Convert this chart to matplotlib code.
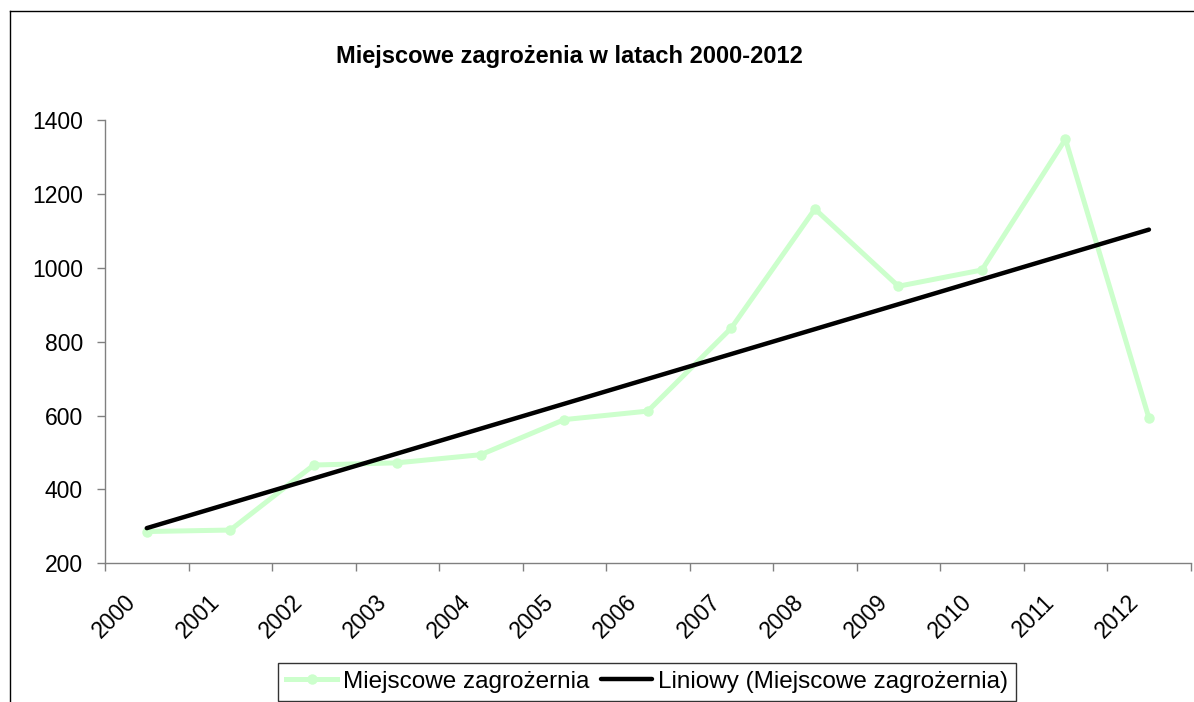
import numpy as np
import matplotlib
matplotlib.use("Agg")
import matplotlib.pyplot as plt
from matplotlib.lines import Line2D
import matplotlib.transforms as mtransforms

plt.rcParams['font.family'] = ['Liberation Sans', 'DejaVu Sans']

years = ['2000', '2001', '2002', '2003', '2004', '2005', '2006',
         '2007', '2008', '2009', '2010', '2011', '2012']
values = [286, 290, 466, 472, 494, 589, 612, 837, 1159, 950, 994, 1348, 593]
yticks = [200, 400, 600, 800, 1000, 1200, 1400]
title = 'Miejscowe zagrożenia w latach 2000-2012'
series_name = 'Miejscowe zagrożernia'
trend_name = 'Liniowy (Miejscowe zagrożernia)'

W, H = 1194, 702
fig = plt.figure(figsize=(W / 100, H / 100), dpi=100)
ax = fig.add_axes([105 / W, 1 - 563.3 / H, (1190.7 - 105) / W, (563.3 - 120) / H])

x = np.arange(len(years))
y = np.array(values, dtype=float)
coef = np.polyfit(x, y, 1)
trend = np.polyval(coef, x)

green = '#CCFFCC'
ax.plot(x, y, color=green, lw=3.6, marker='o', markersize=6.5,
        markerfacecolor=green, markeredgecolor=green, label=series_name, zorder=2,
        solid_joinstyle='round')
ax.plot(x, trend, color='black', lw=3.2, label=trend_name, zorder=3,
        solid_capstyle='round')

ax.set_xlim(-0.5, len(years) - 0.5)
ax.set_ylim(200, 1400)
ax.set_yticks(yticks)
ax.set_yticklabels([str(v) for v in yticks])

axis_col = '#808080'
for s in ['top', 'right']:
    ax.spines[s].set_visible(False)
for s in ['left', 'bottom']:
    ax.spines[s].set_color(axis_col)
    ax.spines[s].set_linewidth(1.0)

ax.tick_params(axis='y', direction='out', length=6, width=1, color=axis_col,
               labelsize=16.5, pad=10)
# Major x ticks at category centres (labels only), minor ticks at boundaries
ax.set_xticks(x)
ax.set_xticklabels(years, rotation=45, ha='right', va='top')
ax.set_xticks(np.arange(-0.5, len(years), 1.0), minor=True)
ax.tick_params(axis='x', which='major', length=0, labelsize=16.5, pad=19.5)
ax.tick_params(axis='x', which='minor', direction='out', length=6, width=1, color=axis_col)
off = mtransforms.ScaledTranslation(-6 / 100, 0, fig.dpi_scale_trans)
for lab in ax.get_xticklabels():
    lab.set_transform(lab.get_transform() + off)

fig.text(569 / W, 1 - 57 / H, title, ha='center', va='center',
         fontsize=17, fontweight='bold')

leg = fig.legend(loc='lower center', bbox_to_anchor=(647 / W, 1.5 / H), ncol=2,
                 fontsize=17.5, frameon=True, fancybox=False, edgecolor='black',
                 handlelength=2.1, handletextpad=0.25, columnspacing=0.45,
                 borderpad=0.32, borderaxespad=0)
leg.get_frame().set_linewidth(1.0)

# Outer chart-area border (left and top edges visible)
fig.add_artist(Line2D([10 / W, 10 / W], [0, 1 - 11 / H], color='black', lw=1.0,
                      transform=fig.transFigure))
fig.add_artist(Line2D([10 / W, 1], [1 - 11 / H, 1 - 11 / H], color='black', lw=1.0,
                      transform=fig.transFigure))

fig.savefig('out.png', dpi=100)
